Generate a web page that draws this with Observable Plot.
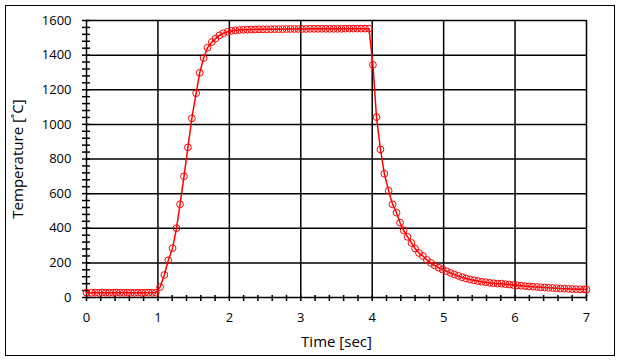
<!DOCTYPE html>
<html><head><meta charset="utf-8">
<script src="https://cdn.jsdelivr.net/npm/d3@7"></script>
<script src="https://cdn.jsdelivr.net/npm/@observablehq/plot@0.6"></script>
<style>
html,body{margin:0;padding:0;background:#fff;}
#wrap{position:relative;width:621px;height:361px;}
#border{position:absolute;left:5px;top:5px;width:608px;height:349px;border:1px solid #000;pointer-events:none;}
g[aria-label="x-axis label"] text, g[aria-label="y-axis label"] text{font-size:15px;}
</style></head><body>
<div id="wrap"><div id="chart"></div><div id="border"></div></div>
<script>
const timeSec = [
  0, 0.07, 0.12, 0.17, 0.22, 0.27, 0.32, 0.37, 0.42, 0.47, 0.52, 0.57, 0.62, 0.67, 0.72, 0.77, 0.82, 0.87, 0.92, 0.97,
  1.03, 1.09, 1.145, 1.205, 1.26, 1.31, 1.365, 1.42, 1.475, 1.535, 1.585, 1.64, 1.695, 1.755, 1.805, 1.86, 1.915, 1.975, 2.03, 2.085,
  2.14, 2.195, 2.25, 2.305, 2.36, 2.415, 2.47, 2.525, 2.58, 2.635, 2.69, 2.745, 2.80, 2.855, 2.91, 2.965, 3.02, 3.075, 3.13, 3.185,
  3.24, 3.295, 3.35, 3.405, 3.46, 3.515, 3.57, 3.625, 3.68, 3.735, 3.79, 3.845, 3.90, 3.955,
  4.01, 4.06, 4.115, 4.17, 4.23, 4.285, 4.34, 4.39, 4.44, 4.495, 4.55, 4.6, 4.655, 4.71, 4.765, 4.82, 4.875, 4.93, 4.985, 5.04,
  5.095, 5.15, 5.205, 5.26, 5.315, 5.37, 5.425, 5.48, 5.535, 5.59, 5.645, 5.70, 5.755, 5.81, 5.865, 5.92, 5.975, 6.03, 6.085, 6.14,
  6.195, 6.25, 6.305, 6.36, 6.415, 6.47, 6.525, 6.58, 6.635, 6.69, 6.745, 6.80, 6.855, 6.91, 6.965, 7.0
];
const tempC = [
  28, 27, 28, 27, 29, 28, 27, 28, 29, 28, 27, 28, 28, 27, 28, 27, 28, 28, 27, 28,
  60, 130, 215, 285, 400, 538, 700, 867, 1035, 1180, 1298, 1383, 1443, 1476, 1495, 1514, 1526, 1535, 1540, 1543,
  1545, 1546, 1547, 1548, 1548, 1549, 1549, 1549, 1550, 1550, 1550, 1550, 1551, 1551, 1551, 1551, 1551, 1551, 1552, 1552,
  1552, 1552, 1552, 1552, 1552, 1552, 1552, 1553, 1553, 1553, 1553, 1553, 1553, 1553,
  1344, 1042, 855, 715, 617, 538, 490, 432, 388, 350, 315, 283, 257, 240, 217, 200, 185, 172, 162, 152,
  142, 133, 125, 117, 110, 104, 99, 95, 91, 88, 85, 82, 80, 80, 77, 75, 72, 70, 68, 66,
  64, 62, 61, 59, 58, 56, 55, 54, 52, 51, 50, 49, 48, 47, 47, 46
];
const xMajorTicks = [0, 1, 2, 3, 4, 5, 6, 7];
const yMajorTicks = [0, 200, 400, 600, 800, 1000, 1200, 1400, 1600];
const xMinorTicks = d3.range(0, 7.001, 0.2);
const yMinorTicks = d3.range(0, 1600.1, 40);
const xLabel = "Time [sec]";
const yLabel = "Temperature [˚C]";

const data = timeSec.map((t, i) => ({t, v: tempC[i]}));
const W = 621, H = 361, mL = 86, mR = 35, mT = 20, mB = 64;
const plotW = W - mL - mR, plotH = H - mT - mB;

const chart = Plot.plot({
  width: W, height: H,
  marginLeft: mL, marginRight: mR, marginTop: mT, marginBottom: mB,
  style: {fontFamily: "'Open Sans', sans-serif", fontSize: "13px", color: "#000", background: "transparent"},
  x: {domain: [0, 7]},
  y: {domain: [0, 1600]},
  marks: [
    Plot.gridX(xMajorTicks, {stroke: "#000", strokeOpacity: 1, strokeWidth: 1.5}),
    Plot.gridY(yMajorTicks, {stroke: "#000", strokeOpacity: 1, strokeWidth: 1.5}),
    Plot.tickX(xMinorTicks, {x: d => d, stroke: "#000", strokeWidth: 1.5, insetTop: plotH - 2, insetBottom: -4}),
    Plot.tickY(yMinorTicks, {y: d => d, stroke: "#000", strokeWidth: 1.5, insetLeft: -4, insetRight: plotW - 4}),
    Plot.axisX(xMajorTicks, {tickSize: 0, tickPadding: 15, tickFormat: d => String(d), label: xLabel, labelAnchor: "center", labelOffset: 49, labelArrow: "none"}),
    Plot.axisY(yMajorTicks, {tickSize: 0, tickPadding: 15, tickFormat: d => String(d), label: yLabel, labelAnchor: "center", labelOffset: 74, labelArrow: "none"}),
    Plot.line(data, {x: "t", y: "v", stroke: "#ff0000", strokeWidth: 1.5}),
    Plot.dot(data, {x: "t", y: "v", r: 3.4, stroke: "#ff0000", fill: "none", strokeWidth: 1})
  ]
});
document.getElementById("chart").appendChild(chart);
</script>
</body></html>
